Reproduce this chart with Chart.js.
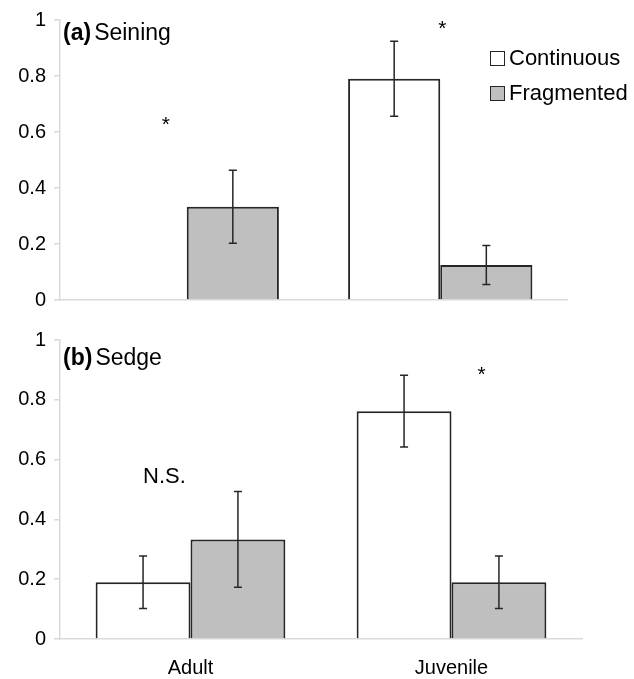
<!DOCTYPE html>
<html>
<head>
<meta charset="utf-8">
<script src="https://cdn.jsdelivr.net/npm/chart.js@4.4.1/dist/chart.umd.min.js"></script>
<style>
  body { margin: 0; background: #fff; font-family: "Liberation Sans", Arial, sans-serif; }
  #wrap { position: relative; width: 634px; height: 679px; }
  canvas { position: absolute; left: 0; }
  #top { top: 0; }
  #bottom { top: 320px; }
  .title { position: absolute; left: 63px; font-size: 23px; color: #000; }
  .title b { margin-right: 3px; }
  .legend { position: absolute; left: 490px; font-size: 22px; color: #000; }
  .legend div { height: 35px; line-height: 35px; white-space: nowrap; }
  .legend span { display: inline-block; width: 13px; height: 13px; border: 1px solid #262626; margin-right: 4px; vertical-align: -1px; }
</style>
</head>
<body>
<div id="wrap">
  <canvas id="top" width="634" height="320"></canvas>
  <canvas id="bottom" width="634" height="359"></canvas>
  <div class="title" style="top:19px"><b>(a)</b>Seining</div>
  <div class="title" style="top:344px"><b>(b)</b>Sedge</div>
  <div class="legend" style="top:40px">
    <div><span style="background:#fff"></span>Continuous</div>
    <div><span style="background:#bfbfbf"></span>Fragmented</div>
  </div>
</div>
<script>
// 数据
const categories = ["Adult", "Juvenile"];
const seriesNames = ["Continuous", "Fragmented"];
const yTicks = [0, 0.2, 0.4, 0.6, 0.8, 1];

const seiningContinuous = [0, 0.79];
const seiningContinuousErr = [0, 0.134];
const seiningFragmented = [0.333, 0.125];
const seiningFragmentedErr = [0.13, 0.07];

const sedgeContinuous = [0.19, 0.762];
const sedgeContinuousErr = [0.088, 0.12];
const sedgeFragmented = [0.333, 0.19];
const sedgeFragmentedErr = [0.16, 0.088];

// 标注: 文字, 类别, 数值
const seiningNotes = [["*", 0, 0.637], ["*", 1, 0.98]];
const sedgeNotes = [["N.S.", 0, 0.543], ["*", 1, 0.894]];

const FONT = "'Liberation Sans', Arial, sans-serif";
const fills = ["#ffffff", "#bfbfbf"];

// 误差线和标注
const extrasPlugin = {
  id: "extras",
  afterDatasetsDraw(chart, args, opts) {
    const ctx = chart.ctx;
    const y = chart.scales.y;
    const x = chart.scales.x;
    ctx.save();
    ctx.strokeStyle = "#262626";
    ctx.lineWidth = 1.5;
    chart.data.datasets.forEach((ds, i) => {
      const meta = chart.getDatasetMeta(i);
      meta.data.forEach((bar, j) => {
        const err = ds.errors[j];
        if (!err) return;
        const v = ds.data[j];
        const y1 = y.getPixelForValue(v + err);
        const y2 = y.getPixelForValue(v - err);
        ctx.beginPath();
        ctx.moveTo(bar.x, y1);
        ctx.lineTo(bar.x, y2);
        ctx.moveTo(bar.x - 4, y1);
        ctx.lineTo(bar.x + 4, y1);
        ctx.moveTo(bar.x - 4, y2);
        ctx.lineTo(bar.x + 4, y2);
        ctx.stroke();
      });
    });
    ctx.fillStyle = "#000";
    ctx.textAlign = "center";
    ctx.textBaseline = "middle";
    opts.notes.forEach((n, k) => {
      const cx = x.getPixelForValue(n[1]) + opts.offsets[k];
      ctx.font = (n[0] === "*" ? "21px " : "22px ") + FONT;
      ctx.fillText(n[0], cx, y.getPixelForValue(n[2]) + (n[0] === "*" ? 4 : 0));
    });
    ctx.restore();
  }
};

function makeChart(id, cont, contErr, frag, fragErr, notes, offsets, showX, padRight) {
  return new Chart(document.getElementById(id), {
    type: "bar",
    data: {
      labels: categories,
      datasets: [
        { label: seriesNames[0], data: cont, errors: contErr, backgroundColor: fills[0] },
        { label: seriesNames[1], data: frag, errors: fragErr, backgroundColor: fills[1] }
      ].map(d => Object.assign(d, {
        borderColor: "#262626",
        borderWidth: 2,
        categoryPercentage: 0.727,
        barPercentage: 1
      }))
    },
    options: {
      responsive: false,
      animation: false,
      layout: { padding: { top: 17, right: padRight, bottom: showX ? 0 : 11, left: 0 } },
      plugins: {
        legend: { display: false },
        tooltip: { enabled: false },
        extras: { notes: notes, offsets: offsets }
      },
      scales: {
        x: {
          grid: { display: false },
          border: { display: true, color: "#d9d9d9", width: 1.5 },
          ticks: { display: showX, color: "#000", padding: 9, font: { size: 20, family: FONT } },
          afterFit(s) { s.height = showX ? 40 : 0; }
        },
        y: {
          min: 0,
          max: 1,
          afterBuildTicks(s) { s.ticks = yTicks.map(v => ({ value: v })); },
          grid: { drawOnChartArea: false, drawTicks: true, tickLength: 6, color: "#d9d9d9", lineWidth: 1.5 },
          border: { display: true, color: "#d9d9d9", width: 1.5 },
          ticks: { color: "#000", padding: 8, font: { size: 20, family: FONT }, callback: v => String(v) },
          afterFit(s) { s.width = 60; }
        }
      }
    },
    plugins: [extrasPlugin]
  });
}

makeChart("top", seiningContinuous, seiningContinuousErr, seiningFragmented, seiningFragmentedErr,
  seiningNotes, [-21, 2], false, 67);
makeChart("bottom", sedgeContinuous, sedgeContinuousErr, sedgeFragmented, sedgeFragmentedErr,
  sedgeNotes, [-26, 30], true, 52);
</script>
</body>
</html>
